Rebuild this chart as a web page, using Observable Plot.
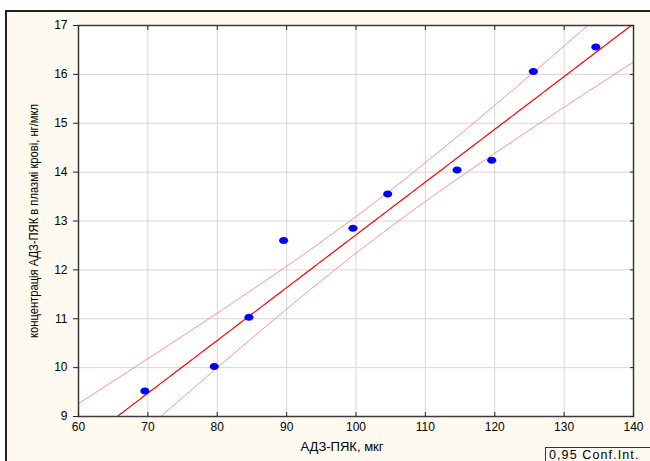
<!DOCTYPE html>
<html>
<head>
<meta charset="utf-8">
<script src="https://cdn.jsdelivr.net/npm/d3@7"></script>
<script src="https://cdn.jsdelivr.net/npm/@observablehq/plot@0.6"></script>
<style>
  html, body { margin: 0; padding: 0; background: #ffffff; }
  #page { position: relative; width: 650px; height: 461px; overflow: hidden; }
  #panel { position: absolute; left: 5px; top: 10px; width: 660px; height: 470px;
           background: #fefaf0; border-top: 2px solid #222; border-left: 2px solid #222; box-sizing: border-box; }
  #chart { position: absolute; left: 0; top: 0; }
  #legend { position: absolute; left: 545px; top: 447px; width: 120px; height: 24px; box-sizing: border-box;
            border: 1px solid #333; background: #fefaf0; font-family: "Liberation Sans", Arial, sans-serif;
            font-size: 12.5px; line-height: 12px; letter-spacing: 1.1px; padding: 1px 0 0 3px; color: #000; white-space: nowrap; }
</style>
</head>
<body>
<div id="page">
  <div id="panel"></div>
  <div id="chart"></div>
  <div id="legend"></div>
</div>
<script>
// ---- data ----
const doseValues = [70, 80, 85, 90, 100, 105, 115, 120, 126, 135];
const concValues = [9.47, 9.97, 10.98, 12.55, 12.80, 13.50, 13.99, 14.19, 16.01, 16.51];
const xTicks = [60, 70, 80, 90, 100, 110, 120, 130, 140];
const yTicks = [9, 10, 11, 12, 13, 14, 15, 16, 17];
const xLabel = "АДЗ-ПЯК, мкг";
const yLabel = "концентрація АДЗ-ПЯК в плазмі крові, нг/мкл";
const legendText = "0,95 Conf.Int.";
const tCrit = 2.306; // Student t, 0.975 quantile, 8 degrees of freedom

// ---- linear regression with 95% confidence band ----
const points = doseValues.map((x, i) => ({x, y: concValues[i]}));
const n = points.length;
const mx = d3.mean(doseValues), my = d3.mean(concValues);
const sxx = d3.sum(doseValues, x => (x - mx) ** 2);
const sxy = d3.sum(points, p => (p.x - mx) * (p.y - my));
const slope = sxy / sxx, intercept = my - slope * mx;
const s = Math.sqrt(d3.sum(points, p => (p.y - intercept - slope * p.x) ** 2) / (n - 2));
const grid = d3.range(xTicks[0], xTicks[xTicks.length - 1] + 0.001, 0.5);
const fit = grid.map(x => {
  const yhat = intercept + slope * x;
  const h = tCrit * s * Math.sqrt(1 / n + (x - mx) ** 2 / sxx);
  return {x, y: yhat, lo: yhat - h, hi: yhat + h};
});

const ellipseSymbol = {
  draw(context, size) {
    const r = Math.sqrt(size / Math.PI);
    const rx = r, ry = r * 0.76, k = 0.5523;
    context.moveTo(rx, 0);
    context.bezierCurveTo(rx, ry * k, rx * k, ry, 0, ry);
    context.bezierCurveTo(-rx * k, ry, -rx, ry * k, -rx, 0);
    context.bezierCurveTo(-rx, -ry * k, -rx * k, -ry, 0, -ry);
    context.bezierCurveTo(rx * k, -ry, rx, -ry * k, rx, 0);
    context.closePath();
  }
};

const font = "'Liberation Sans', Arial, sans-serif";
const chart = Plot.plot({
  width: 650,
  height: 461,
  marginLeft: 78,
  marginRight: 17,
  marginTop: 25,
  marginBottom: 45,
  style: {background: "transparent", fontFamily: font, fontSize: "12px", color: "#000", overflow: "visible"},
  x: {domain: [xTicks[0], xTicks[xTicks.length - 1]]},
  y: {domain: [yTicks[0], yTicks[yTicks.length - 1]]},
  marks: [
    Plot.frame({fill: "white", stroke: null}),
    Plot.gridX(xTicks.slice(1, -1), {stroke: "#d6d6d6", strokeOpacity: 1}),
    Plot.gridY(yTicks.slice(1, -1), {stroke: "#d6d6d6", strokeOpacity: 1}),
    Plot.line(fit, {x: "x", y: "hi", stroke: "#ff8f8f", strokeWidth: 1, clip: true}),
    Plot.line(fit, {x: "x", y: "lo", stroke: "#ff8f8f", strokeWidth: 1, clip: true}),
    Plot.line(fit, {x: "x", y: "y", stroke: "#ff0000", strokeWidth: 1.2, clip: true}),
    Plot.dot(points, {x: "x", y: "y", symbol: ellipseSymbol, r: 4.6, fill: "#0000ff", stroke: null, dx: -3, dy: -2.5}),
    Plot.frame({stroke: "#3a3a3a", strokeWidth: 1.5}),
    Plot.axisY(yTicks, {anchor: "left", tickSize: 5, tickPadding: 6, label: null, fontSize: 12, stroke: "#222"}),
    Plot.axisY(yTicks, {anchor: "right", tickSize: -4, tickFormat: () => "", label: null, stroke: "#222"}),
    Plot.axisX(xTicks, {anchor: "bottom", tickSize: -4, tickPadding: 10, label: null, fontSize: 12, stroke: "#222"}),
    Plot.axisX(xTicks, {anchor: "top", tickSize: -4, tickFormat: () => "", label: null, stroke: "#222"}),
    Plot.text([xLabel], {frameAnchor: "bottom", dx: -14, dy: 34, fontSize: 13, fill: "#000"}),
    Plot.text([yLabel], {frameAnchor: "left", dx: -45, rotate: -90, fontSize: 13, fill: "#000", className: "ylab"})
  ]
});
document.getElementById("chart").appendChild(chart);
d3.select(chart).selectAll(".ylab text")
  .attr("text-anchor", "start")
  .attr("x", -117)
  .attr("textLength", 234)
  .attr("lengthAdjust", "spacingAndGlyphs");
document.getElementById("legend").textContent = legendText;
</script>
</body>
</html>
